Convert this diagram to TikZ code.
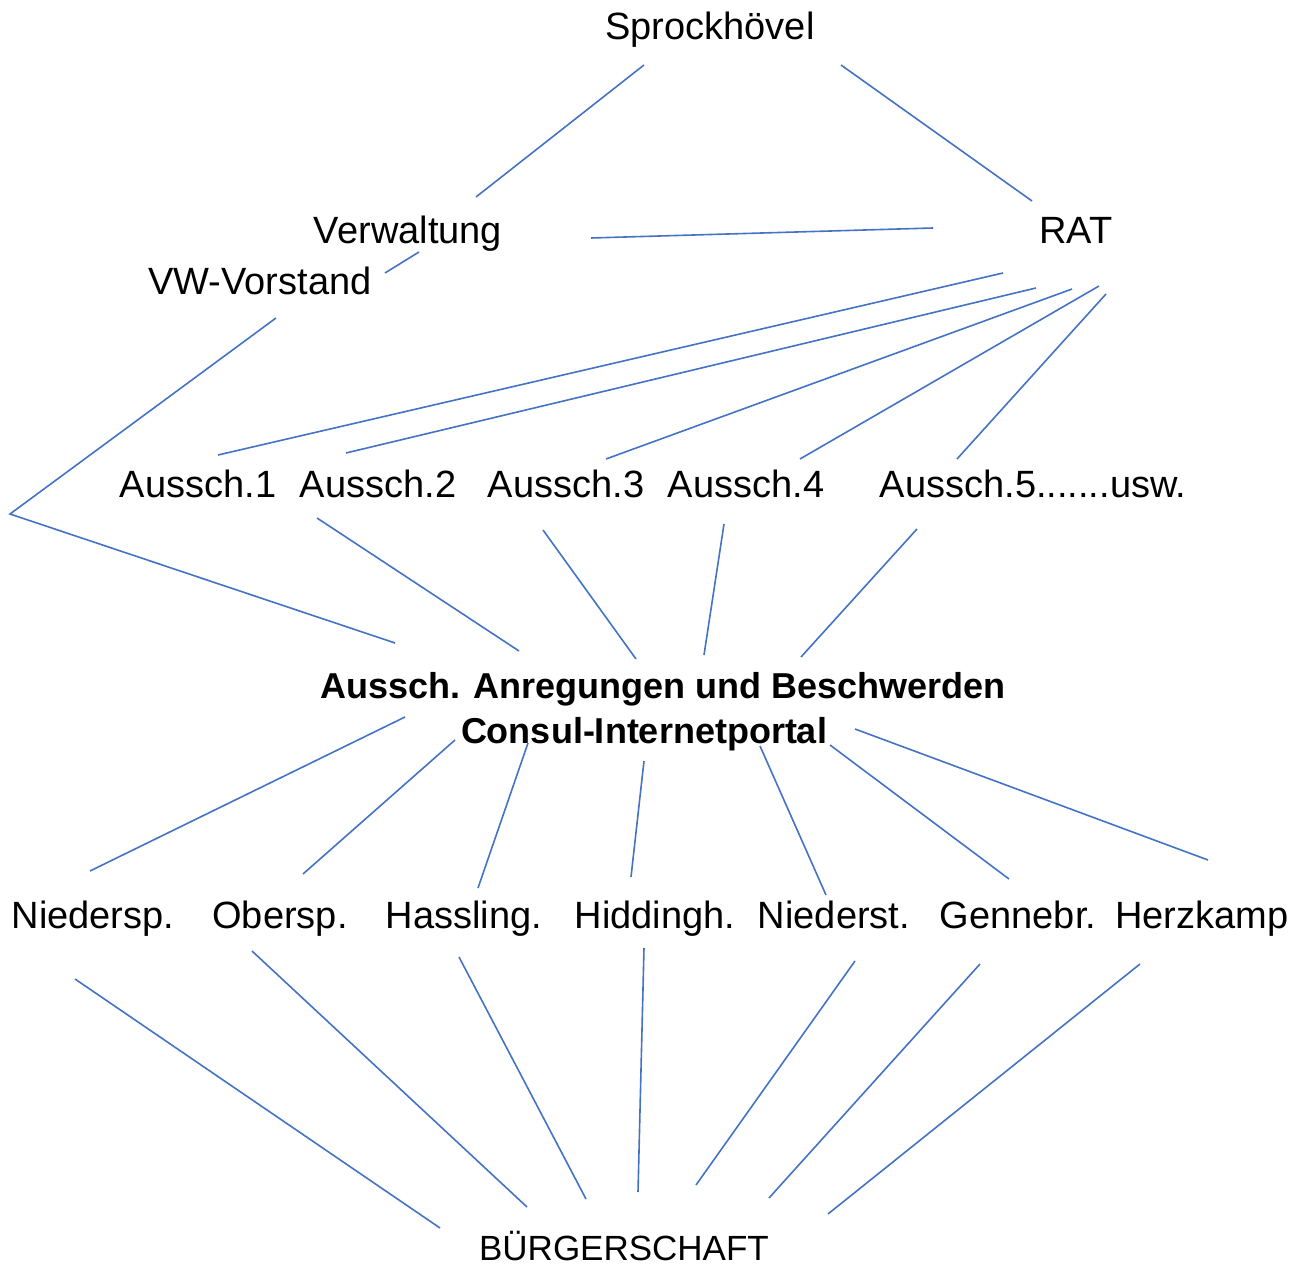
\documentclass[tikz,border=0pt]{standalone}
\usepackage{fontspec}
\setmainfont{Liberation Sans}
\definecolor{linkblue}{RGB}{68,114,196}
\begin{document}
\begin{tikzpicture}
			[x=0.5pt,y=-0.5pt,
			 ort/.style={anchor=base,inner sep=0pt,font=\fontsize{19}{22}\selectfont},
			 haupt/.style={anchor=base,inner sep=0pt,font=\fontsize{18}{22}\selectfont\bfseries},
			 link/.style={draw=linkblue,line width=0.8pt}]
			\useasboundingbox (0,0) rectangle (1302,1267);
			% Spitze
			\node[ort,name=spr]at(710,40){Sprockhövel};
			\node[ort,name=verw]at(408,244){Verwaltung};
			\node[ort,name=rat]at(1076,244){RAT};
			\node[ort,name=vwv]at(260,295){VW-Vorstand};
			\coordinate (knick) at (10,514);
			% Ausschuesse
			\node[ort,name=a1]at(198,498){Aussch.1};
			\node[ort,name=a2]at(378,498){Aussch.2};
			\node[ort,name=a3]at(566,498){Aussch.3};
			\node[ort,name=a4]at(746,498){Aussch.4};
			\node[ort,name=a5]at(1033,498){Aussch.5.......usw.};
			\node[haupt,name=anr]at(663,698){Aussch. Anregungen und Beschwerden};
			\node[haupt,name=portal]at(644,743){Consul-Internetportal};
			% Ortsteile
			\node[ort,name=nd]at(93,928){Niedersp.};
			\node[ort,name=ob]at(280,928){Obersp.};
			\node[ort,name=ha]at(464,928){Hassling.};
			\node[ort,name=hi]at(655,928){Hiddingh.};
			\node[ort,name=ns]at(834,928){Niederst.};
			\node[ort,name=ge]at(1018,928){Gennebr.};
			\node[ort,name=hk]at(1202,928){Herzkamp};
			\node[ort,name=bg,font=\fontsize{17.5}{20}\selectfont]at(624,1260){BÜRGERSCHAFT};
			% oben
			\draw[link] ([shift={(-66,25)}]spr.base)--([shift={(68,-47)}]verw.base);
			\draw[link] ([shift={(131,25)}]spr.base)--([shift={(-44,-43)}]rat.base);
			\draw[link] ([shift={(183,-6)}]verw.base)--([shift={(-143,-16)}]rat.base);
			\draw[link] ([shift={(11,8)}]verw.base)--([shift={(125,-22)}]vwv.base);
			\draw[link] ([shift={(16,23)}]vwv.base)--(knick)--([shift={(-268,-55)}]anr.base);
			% RAT - Ausschuesse
			\draw[link] ([shift={(-73,29)}]rat.base)--([shift={(20,-43)}]a1.base);
			\draw[link] ([shift={(-40,44)}]rat.base)--([shift={(-32,-45)}]a2.base);
			\draw[link] ([shift={(-4,45)}]rat.base)--([shift={(40,-39)}]a3.base);
			\draw[link] ([shift={(23,42)}]rat.base)--([shift={(54,-39)}]a4.base);
			\draw[link] ([shift={(30,50)}]rat.base)--([shift={(-76,-39)}]a5.base);
			% Ausschuesse - Anregungen
			\draw[link] ([shift={(-61,20)}]a2.base)--([shift={(-144,-47)}]anr.base);
			\draw[link] ([shift={(-23,32)}]a3.base)--([shift={(-27,-39)}]anr.base);
			\draw[link] ([shift={(-22,26)}]a4.base)--([shift={(41,-43)}]anr.base);
			\draw[link] ([shift={(-116,31)}]a5.base)--([shift={(138,-41)}]anr.base);
			% Portal - Ortsteile
			\draw[link] ([shift={(-239,-26)}]portal.base)--([shift={(-3,-57)}]nd.base);
			\draw[link] ([shift={(-189,-3)}]portal.base)--([shift={(23,-54)}]ob.base);
			\draw[link] ([shift={(-116,0)}]portal.base)--([shift={(14,-40)}]ha.base);
			\draw[link] ([shift={(0,18)}]portal.base)--([shift={(-24,-51)}]hi.base);
			\draw[link] ([shift={(116,3)}]portal.base)--([shift={(-8,-33)}]ns.base);
			\draw[link] ([shift={(186,2)}]portal.base)--([shift={(-9,-49)}]ge.base);
			\draw[link] ([shift={(211,-14)}]portal.base)--([shift={(6,-68)}]hk.base);
			% Ortsteile - Buergerschaft
			\draw[link] ([shift={(-18,51)}]nd.base)--([shift={(-184,-32)}]bg.base);
			\draw[link] ([shift={(-28,23)}]ob.base)--([shift={(-97,-53)}]bg.base);
			\draw[link] ([shift={(-5,29)}]ha.base)--([shift={(-38,-61)}]bg.base);
			\draw[link] ([shift={(-11,20)}]hi.base)--([shift={(14,-68)}]bg.base);
			\draw[link] ([shift={(21,33)}]ns.base)--([shift={(72,-75)}]bg.base);
			\draw[link] ([shift={(-38,36)}]ge.base)--([shift={(145,-62)}]bg.base);
			\draw[link] ([shift={(-62,36)}]hk.base)--([shift={(204,-46)}]bg.base);
		\end{tikzpicture}
\end{document}
